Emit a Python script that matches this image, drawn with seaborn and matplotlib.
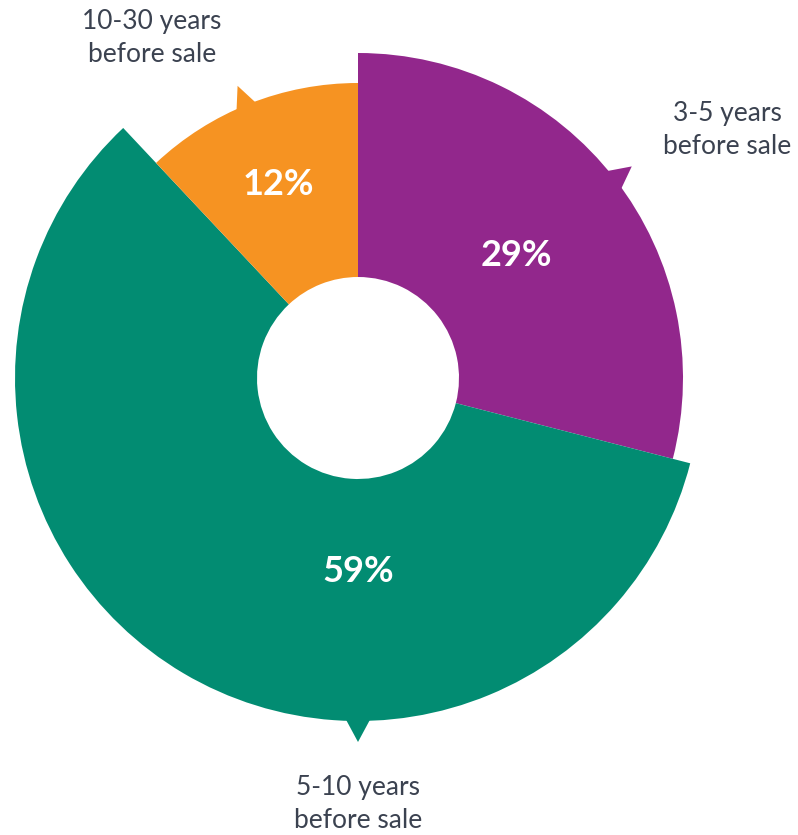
import numpy as np
import matplotlib
matplotlib.use("Agg")
import matplotlib.pyplot as plt
from matplotlib.patches import Wedge, Polygon
import seaborn as sns

# Data: when the business was acquired relative to its sale
categories = ["3-5 years\nbefore sale", "5-10 years\nbefore sale", "10-30 years\nbefore sale"]
shares = [29, 59, 12]
pct_labels = ["29%", "59%", "12%"]

# Styling
colors = ["#92278C", "#028C72", "#F69322"]
outer_radius = [325, 343, 295]       # each slice has its own reach
inner_radius = 101
label_angle = [37.7, 270.0, 112.4]   # direction of pointer / value label
value_radius = [200, 194, 209]
name_pos = [(369, 248), (0, -426), (-206, 340)]

sns.set_theme(style="white")
plt.rcParams["font.family"] = ["Lato", "DejaVu Sans"]

fig = plt.figure(figsize=(7.98, 8.35), dpi=100)
ax = fig.add_axes([0, 0, 1, 1])
ax.set_xlim(-358, 440)
ax.set_ylim(-457, 378)
ax.set_aspect("equal")
ax.axis("off")

total = float(sum(shares))
start = 90.0
for i, share in enumerate(shares):
    span = 360.0 * share / total
    theta2 = start
    theta1 = start - span
    r = outer_radius[i]
    ax.add_patch(Wedge((0, 0), r, theta1, theta2, width=r - inner_radius,
                       facecolor=colors[i], edgecolor="none", antialiased=True))
    # small pointer on the outer rim toward the category name
    a = np.deg2rad(label_angle[i])
    half = np.deg2rad(2.1)
    base1 = ((r - 2) * np.cos(a - half), (r - 2) * np.sin(a - half))
    base2 = ((r - 2) * np.cos(a + half), (r - 2) * np.sin(a + half))
    tip = ((r + 21) * np.cos(a), (r + 21) * np.sin(a))
    ax.add_patch(Polygon([base1, tip, base2], closed=True,
                         facecolor=colors[i], edgecolor="none"))
    # value label inside the slice
    vr = value_radius[i]
    ax.text(vr * np.cos(a), vr * np.sin(a), pct_labels[i], color="white",
            fontsize=26, fontweight="bold", ha="center", va="center")
    # category name outside
    ax.text(name_pos[i][0], name_pos[i][1], categories[i], color="#3B4250",
            fontsize=19, ha="center", va="center", linespacing=1.35)
    start = theta1

fig.savefig("out.png", dpi=100, facecolor="white")
